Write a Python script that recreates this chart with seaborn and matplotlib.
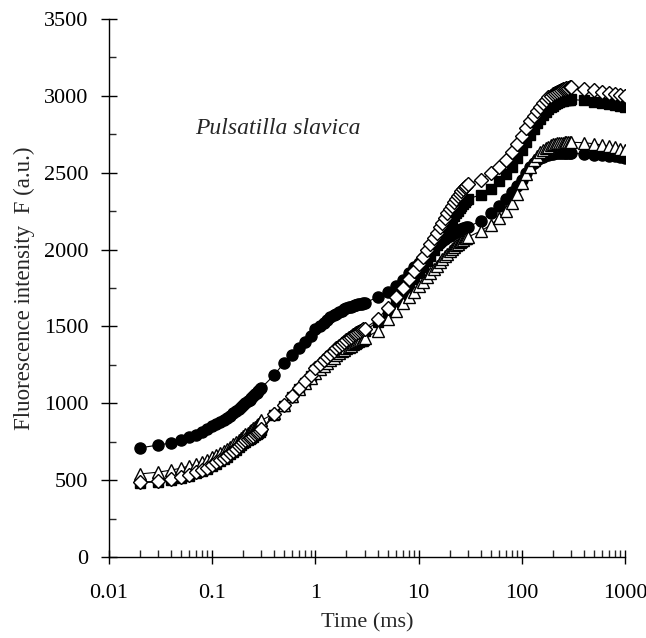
import matplotlib
matplotlib.use('Agg')
import matplotlib.pyplot as plt
import seaborn as sns
from matplotlib.ticker import LogLocator, MultipleLocator, FuncFormatter, NullFormatter

# time points of the fluorescence transient (ms)
time_ms = [0.02, 0.03, 0.04, 0.05, 0.06, 0.07, 0.08, 0.09, 0.10,
           0.11, 0.12, 0.13, 0.14, 0.15, 0.16, 0.17, 0.18, 0.19, 0.20,
           0.21, 0.22, 0.23, 0.24, 0.25, 0.26, 0.27, 0.28, 0.29, 0.30,
           0.4, 0.5, 0.6, 0.7, 0.8, 0.9, 1.0,
           1.1, 1.2, 1.3, 1.4, 1.5, 1.6, 1.7, 1.8, 1.9, 2.0,
           2.1, 2.2, 2.3, 2.4, 2.5, 2.6, 2.7, 2.8, 2.9, 3.0,
           4, 5, 6, 7, 8, 9, 10,
           11, 12, 13, 14, 15, 16, 17, 18, 19, 20,
           21, 22, 23, 24, 25, 26, 27, 28, 29, 30,
           40, 50, 60, 70, 80, 90, 100,
           110, 120, 130, 140, 150, 160, 170, 180, 190, 200,
           210, 220, 230, 240, 250, 260, 270, 280, 290, 300,
           400, 500, 600, 700, 800, 900, 1000]

# filled circles
f_circle = [710, 728, 742, 760, 778, 796, 814, 832, 850,
            864, 878, 892, 906, 920, 934, 948, 962, 976, 990,
            1001, 1012, 1024, 1036, 1047, 1058, 1069, 1080, 1090, 1100,
            1185, 1265, 1315, 1360, 1400, 1440, 1480,
            1505, 1525, 1543, 1558, 1571, 1583, 1593, 1602, 1610, 1617,
            1623, 1628, 1633, 1637, 1640, 1643, 1646, 1648, 1650, 1652,
            1690, 1725, 1760, 1800, 1845, 1885, 1915,
            1945, 1970, 1990, 2010, 2028, 2044, 2058, 2070, 2081, 2091,
            2100, 2108, 2115, 2121, 2127, 2132, 2137, 2141, 2145, 2148,
            2185, 2235, 2285, 2330, 2375, 2415, 2455,
            2500, 2535, 2560, 2580, 2595, 2605, 2612, 2617, 2621, 2624,
            2626, 2627, 2628, 2628, 2628, 2628, 2628, 2627, 2627, 2626,
            2622, 2618, 2614, 2610, 2606, 2602, 2598]

# open diamonds
f_diamond = [488, 492, 505, 520, 535, 550, 565, 580, 600,
             615, 630, 645, 660, 675, 690, 705, 720, 735, 750,
             758, 766, 774, 782, 790, 798, 806, 814, 822, 830,
             930, 990, 1050, 1100, 1145, 1185, 1228,
             1255, 1280, 1302, 1322, 1340, 1357, 1372, 1386, 1399, 1411,
             1422, 1432, 1442, 1451, 1459, 1466, 1472, 1477, 1481, 1485,
             1545, 1620, 1690, 1752, 1810, 1860, 1905,
             1950, 1995, 2035, 2075, 2110, 2145, 2175, 2205, 2235, 2262,
             2286, 2308, 2328, 2347, 2364, 2380, 2394, 2406, 2416, 2425,
             2455, 2498, 2540, 2585, 2635, 2685, 2738,
             2790, 2835, 2870, 2900, 2930, 2955, 2975, 2990, 3002, 3010,
             3018, 3025, 3032, 3038, 3043, 3047, 3051, 3054, 3056, 3058,
             3045, 3035, 3028, 3020, 3013, 3006, 3000]

# filled squares
f_square = [483, 488, 500, 515, 530, 545, 560, 575, 593,
            608, 623, 638, 653, 668, 683, 698, 713, 728, 743,
            751, 759, 767, 775, 783, 791, 799, 807, 815, 823,
            922, 982, 1040, 1090, 1135, 1175, 1215,
            1242, 1266, 1288, 1308, 1326, 1343, 1358, 1372, 1385, 1397,
            1408, 1418, 1428, 1437, 1445, 1452, 1458, 1463, 1467, 1470,
            1530, 1595, 1660, 1715, 1765, 1810, 1850,
            1888, 1925, 1960, 1995, 2028, 2060, 2090, 2118, 2145, 2170,
            2193, 2215, 2235, 2253, 2270, 2285, 2298, 2310, 2320, 2330,
            2355, 2395, 2445, 2490, 2540, 2595, 2650,
            2700, 2745, 2785, 2820, 2850, 2875, 2895, 2912, 2925, 2936,
            2945, 2952, 2958, 2963, 2967, 2970, 2972, 2974, 2975, 2976,
            2970, 2962, 2955, 2948, 2942, 2936, 2930]

# open triangles
f_triangle = [540, 552, 565, 578, 592, 606, 620, 634, 648,
              662, 676, 690, 704, 718, 732, 746, 760, 774, 788,
              798, 808, 818, 828, 838, 848, 858, 868, 878, 888,
              935, 990, 1045, 1090, 1130, 1165, 1195,
              1220, 1243, 1263, 1281, 1297, 1312, 1325, 1337, 1348, 1358,
              1367, 1375, 1383, 1390, 1397, 1403, 1409, 1414, 1419, 1424,
              1470, 1545, 1600, 1650, 1690, 1725, 1760,
              1790, 1820, 1848, 1873, 1896, 1918, 1938, 1956, 1973, 1988,
              2002, 2015, 2027, 2038, 2048, 2057, 2065, 2072, 2077, 2081,
              2120, 2160, 2205, 2250, 2300, 2360, 2430,
              2490, 2540, 2580, 2610, 2632, 2648, 2660, 2670, 2678, 2684,
              2688, 2691, 2693, 2695, 2696, 2697, 2698, 2698, 2698, 2698,
              2695, 2688, 2680, 2672, 2664, 2656, 2648]

sns.set_style('ticks')
plt.rcParams['font.family'] = ['Liberation Serif', 'DejaVu Serif']

fig = plt.figure(figsize=(6.46, 6.38), dpi=100)
ax = fig.add_axes([0.1687, 0.1270, 0.7988, 0.8433])

# draw order: circles, squares, triangles, diamonds on top
sns.lineplot(x=time_ms, y=f_circle, ax=ax, color='black', linewidth=0.8,
             marker='o', markersize=8, markerfacecolor='black',
             markeredgecolor='black', markeredgewidth=1.0, zorder=3)
sns.lineplot(x=time_ms, y=f_square, ax=ax, color='black', linewidth=0.8,
             marker='s', markersize=7, markerfacecolor='black',
             markeredgecolor='black', markeredgewidth=1.0, zorder=4)
sns.lineplot(x=time_ms, y=f_triangle, ax=ax, color='black', linewidth=0.8,
             marker='^', markersize=8.5, markerfacecolor='white',
             markeredgecolor='black', markeredgewidth=1.0, zorder=5)
sns.lineplot(x=time_ms, y=f_diamond, ax=ax, color='black', linewidth=0.8,
             marker='D', markersize=7.5, markerfacecolor='white',
             markeredgecolor='black', markeredgewidth=1.0, zorder=6)

ax.set_xscale('log')
ax.set_xlim(0.01, 1000)
ax.set_ylim(0, 3500)

ax.xaxis.set_major_locator(LogLocator(base=10))
ax.xaxis.set_minor_locator(LogLocator(base=10, subs=range(2, 10)))
ax.xaxis.set_major_formatter(FuncFormatter(lambda v, p: '%g' % v))
ax.xaxis.set_minor_formatter(NullFormatter())
ax.yaxis.set_major_locator(MultipleLocator(500))
ax.yaxis.set_minor_locator(MultipleLocator(250))

ax.tick_params(axis='y', which='major', direction='inout', length=12,
               width=1, pad=9, labelsize=16, colors='black')
ax.tick_params(axis='x', which='major', direction='inout', length=9.5,
               width=1, pad=15, labelsize=16, colors='black')
ax.tick_params(which='minor', direction='in', length=5, width=1)

sns.despine(ax=ax)
for s in ['left', 'bottom']:
    ax.spines[s].set_linewidth(1.0)
    ax.spines[s].set_color('black')

ax.set_xlabel('Time (ms)', fontsize=16, labelpad=7)
ax.set_ylabel('Fluorescence intensity  F (a.u.)', fontsize=16.5, labelpad=6)
ax.text(0.068, 2790, 'Pulsatilla slavica', style='italic', fontsize=17,
        va='center', ha='left')

fig.savefig('out.png', dpi=100)
